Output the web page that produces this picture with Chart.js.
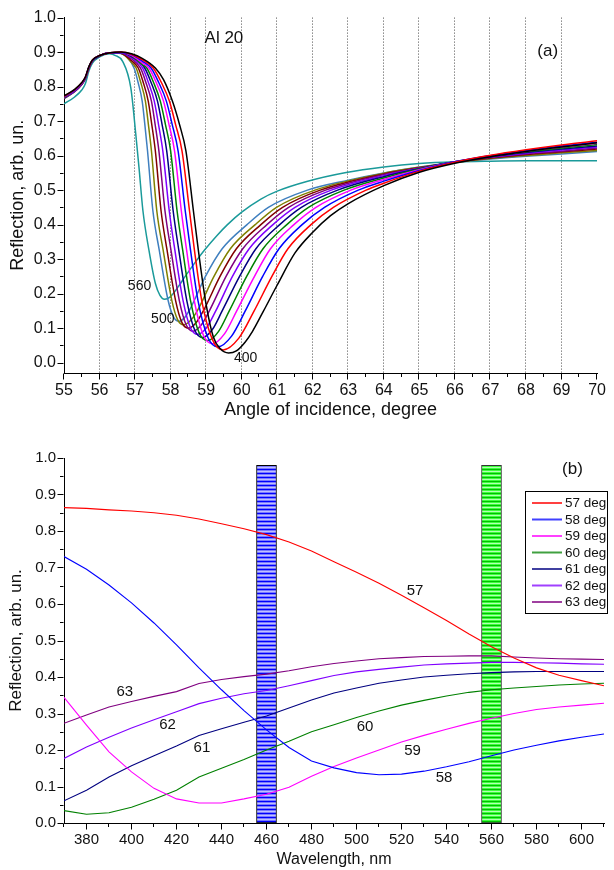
<!DOCTYPE html>
<html><head><meta charset="utf-8">
<script src="https://cdn.jsdelivr.net/npm/chart.js@4.4.1/dist/chart.umd.min.js"></script>
<style>
html,body{margin:0;padding:0;background:#fff;}
#wrap{position:relative;width:614px;height:870px;overflow:hidden;}
#c1{position:absolute;left:0;top:0;}
#c2{position:absolute;left:0;top:425px;}
</style></head><body>
<div id="wrap"><canvas id="c1" width="614" height="425"></canvas><canvas id="c2" width="614" height="445"></canvas></div>
<script>
// ---------- Panel (a): reflection vs angle, one curve per wavelength ----------
const topWavelengths = [400,410,420,430,440,450,460,470,480,490,500,560];
const curve400 = [[55,.773],[55.3,.792],[55.5,.812],[55.6,.828],[55.7,.858],[55.8,.877],[56,.890],[56.3,.898],[56.6,.900],[56.9,.895],[57.2,.882],[57.57,.854],[57.8,.82],[58.05,.758],[58.25,.69],[58.43,.614],[58.64,.441],[58.78,.326],[58.98,.18],[59.2,.075],[59.4,.04],[59.63,.028],[59.85,.034],[60.1,.06],[60.3,.09],[60.6,.147],[61,.225],[61.5,.318],[62,.378],[62.5,.426],[63,.461],[64,.513],[65,.552],[66,.578],[67,.597],[68,.612],[69,.625],[70,.637]];
const curve410 = [[55,.772],[55.3,.791],[55.5,.811],[55.6,.827],[55.7,.857],[55.8,.877],[56,.890],[56.3,.898],[56.6,.900],[56.9,.894],[57.2,.878],[57.51,.854],[57.74,.812],[57.965,.758],[58.14,.69],[58.32,.614],[58.53,.441],[58.67,.326],[58.875,.18],[59.18,.066],[59.48,.037],[59.92,.071],[60.35,.15],[60.85,.25],[61.3,.33],[61.95,.40],[62.58,.45],[63.5,.50],[64,.52],[65,.555],[66,.581],[67,.601],[68,.617],[69,.631],[70,.643]];
const curve420 = [[55,.771],[55.3,.790],[55.5,.810],[55.6,.826],[55.7,.857],[55.8,.876],[56,.890],[56.3,.898],[56.6,.899],[56.9,.893],[57.2,.874],[57.45,.854],[57.665,.812],[57.88,.758],[58.045,.69],[58.21,.614],[58.41,.441],[58.56,.326],[58.77,.18],[59.05,.073],[59.33,.046],[59.715,.077],[60.1,.15],[60.59,.25],[61.05,.33],[61.7,.40],[62.33,.45],[63.28,.50],[64,.526],[65,.557],[66,.582],[67,.600],[68,.615],[69,.628],[70,.639]];
const curve430 = [[55,.770],[55.3,.789],[55.5,.809],[55.6,.826],[55.7,.856],[55.8,.876],[56,.890],[56.3,.898],[56.6,.899],[56.9,.891],[57.2,.869],[57.39,.854],[57.595,.812],[57.80,.758],[57.955,.69],[58.11,.614],[58.30,.441],[58.45,.326],[58.665,.18],[58.92,.080],[59.18,.055],[59.52,.084],[59.86,.15],[60.36,.25],[60.81,.33],[61.47,.40],[62.09,.45],[63.07,.50],[64,.531],[65,.559],[66,.582],[67,.599],[68,.613],[69,.625],[70,.636]];
const curve440 = [[55,.769],[55.3,.789],[55.5,.809],[55.6,.825],[55.7,.856],[55.8,.876],[56,.889],[56.3,.898],[56.6,.899],[56.9,.889],[57.2,.864],[57.33,.854],[57.52,.812],[57.71,.758],[57.855,.69],[58.0,.614],[58.18,.441],[58.34,.326],[58.56,.18],[58.80,.087],[59.04,.064],[59.345,.090],[59.65,.15],[60.14,.25],[60.60,.33],[61.27,.40],[61.88,.45],[62.88,.50],[64,.535],[65,.561],[66,.582],[67,.598],[68,.611],[69,.622],[70,.632]];
const curve450 = [[55,.769],[55.3,.788],[55.5,.808],[55.6,.825],[55.7,.855],[55.8,.875],[56,.889],[56.3,.898],[56.6,.899],[56.9,.887],[57.27,.854],[57.45,.812],[57.63,.758],[57.76,.69],[57.89,.614],[58.07,.441],[58.23,.326],[58.455,.18],[58.68,.094],[58.9,.073],[59.175,.096],[59.45,.15],[59.94,.25],[60.40,.33],[61.07,.40],[61.68,.45],[62.7,.50],[64,.539],[65,.562],[66,.582],[67,.597],[68,.609],[69,.619],[70,.628]];
const curve460 = [[55,.768],[55.3,.787],[55.5,.808],[55.6,.824],[55.7,.855],[55.8,.875],[56,.889],[56.3,.898],[56.6,.898],[56.9,.884],[57.21,.854],[57.375,.812],[57.54,.758],[57.66,.69],[57.78,.614],[57.96,.441],[58.12,.326],[58.35,.18],[58.555,.102],[58.76,.082],[59.015,.102],[59.27,.15],[59.74,.25],[60.21,.33],[60.88,.40],[61.50,.45],[62.52,.50],[64,.542],[65,.563],[66,.582],[67,.596],[68,.607],[69,.616],[70,.625]];
const curve470 = [[55,.767],[55.3,.787],[55.5,.807],[55.6,.824],[55.7,.854],[55.8,.875],[56,.889],[56.3,.898],[56.6,.898],[56.9,.880],[57.15,.854],[57.305,.812],[57.46,.758],[57.565,.69],[57.67,.614],[57.84,.441],[58.01,.326],[58.245,.18],[58.44,.109],[58.63,.091],[58.86,.109],[59.09,.15],[59.56,.25],[60.03,.33],[60.71,.40],[61.32,.45],[62.36,.50],[64,.545],[65,.564],[66,.581],[67,.595],[68,.605],[69,.613],[70,.622]];
const curve480 = [[55,.767],[55.3,.786],[55.5,.807],[55.6,.823],[55.7,.854],[55.8,.874],[56,.889],[56.3,.898],[56.6,.897],[56.9,.875],[57.09,.854],[57.23,.812],[57.37,.758],[57.47,.69],[57.57,.614],[57.73,.441],[57.90,.326],[58.14,.18],[58.32,.116],[58.5,.100],[58.71,.115],[58.92,.15],[59.39,.25],[59.85,.33],[60.54,.40],[61.15,.45],[62.21,.50],[64,.547],[65,.565],[66,.581],[67,.593],[68,.603],[69,.611],[70,.619]];
const curve490 = [[55,.766],[55.3,.786],[55.5,.806],[55.6,.823],[55.7,.853],[55.8,.874],[56,.889],[56.3,.898],[56.6,.897],[56.9,.870],[57.03,.854],[57.16,.812],[57.29,.758],[57.375,.69],[57.46,.614],[57.61,.441],[57.79,.326],[58.035,.18],[58.20,.124],[58.37,.110],[58.56,.122],[58.75,.15],[59.22,.25],[59.68,.33],[60.38,.40],[60.98,.45],[62.06,.50],[64,.549],[65,.566],[66,.580],[67,.592],[68,.600],[69,.608],[70,.615]];
const curve500 = [[55,.765],[55.3,.785],[55.5,.806],[55.6,.822],[55.7,.853],[55.8,.874],[56,.889],[56.3,.898],[56.6,.896],[56.97,.854],[57.085,.812],[57.2,.758],[57.275,.69],[57.35,.614],[57.50,.441],[57.68,.326],[57.93,.18],[58.085,.132],[58.24,.120],[58.38,.129],[58.52,.15],[58.98,.25],[59.45,.33],[60.15,.40],[60.75,.45],[61.85,.50],[63,.529],[64,.55],[65,.567],[66,.58],[67,.59],[68,.598],[69,.605],[70,.612]];
const curve560 = [[55,.75],[55.3,.77],[55.5,.79],[55.6,.808],[55.7,.845],[55.8,.868],[56,.886],[56.28,.895],[56.45,.89],[56.65,.873],[56.88,.796],[57.02,.662],[57.11,.566],[57.22,.441],[57.39,.326],[57.57,.23],[57.7,.195],[57.83,.184],[57.98,.19],[58.2,.218],[58.41,.25],[58.7,.292],[58.96,.327],[59.3,.368],[59.6,.4],[60,.436],[60.54,.474],[61,.497],[61.83,.525],[62.94,.551],[64,.567],[65,.577],[66,.582],[67,.584],[68,.585],[69,.585],[70,.585]];
const topCurves = [curve400,curve410,curve420,curve430,curve440,curve450,curve460,curve470,curve480,curve490,curve500,curve560];
const topAngleTicks = [55,56,57,58,59,60,61,62,63,64,65,66,67,68,69,70];
const topGridAngles = [56,57,58,59,60,61,62,63,64,65,66,67,68,69];
const topReflTicks = [0.0,0.1,0.2,0.3,0.4,0.5,0.6,0.7,0.8,0.9,1.0];
const topLabels = [
  {text:'Al 20', x:59.5, y:0.94, size:17},
  {text:'(a)', x:68.61, y:0.903, size:17},
  {text:'560', x:57.125, y:0.222, size:14},
  {text:'500', x:57.78, y:0.125, size:14},
  {text:'400', x:60.11, y:0.013, size:14}
];

// ---------- Panel (b): reflection vs wavelength, one curve per angle ----------
const wavelengths = [370,380,390,400,410,420,430,440,450,460,470,480,490,500,510,520,530,540,550,560,570,580,590,600,610];
const r57 = [.864,.862,.858,.855,.850,.843,.833,.820,.806,.790,.770,.745,.716,.687,.657,.624,.590,.555,.518,.483,.452,.425,.405,.390,.376];
const r58 = [.730,.695,.652,.603,.548,.488,.425,.365,.308,.255,.207,.170,.151,.138,.132,.134,.142,.154,.168,.184,.200,.213,.225,.235,.244];
const r59 = [.344,.268,.195,.140,.095,.066,.055,.055,.066,.079,.098,.128,.155,.178,.200,.222,.240,.257,.273,.287,.300,.311,.318,.323,.328];
const r60 = [.034,.024,.028,.043,.065,.090,.126,.150,.174,.200,.224,.250,.269,.289,.307,.323,.336,.348,.358,.365,.370,.374,.378,.381,.383];
const r61 = [.061,.090,.126,.157,.184,.211,.240,.258,.276,.293,.315,.337,.356,.370,.383,.392,.400,.405,.409,.412,.414,.415,.415,.415,.415];
const r62 = [.177,.208,.235,.260,.283,.305,.327,.342,.354,.363,.376,.390,.404,.414,.421,.427,.433,.436,.438,.440,.440,.439,.438,.436,.435];
const r63 = [.273,.296,.318,.333,.347,.360,.382,.393,.401,.408,.417,.428,.437,.444,.450,.453,.456,.457,.458,.458,.455,.452,.450,.449,.448];
const angleSeries = [r57,r58,r59,r60,r61,r62,r63];
const angleNames = ['57 deg','58 deg','59 deg','60 deg','61 deg','62 deg','63 deg'];
const bandCenters = [460, 560];
const bandHeights = [0.98, 0.98];
const botWaveTicks = [380,400,420,440,460,480,500,520,540,560,580,600];
const botReflTicks = [0.0,0.1,0.2,0.3,0.4,0.5,0.6,0.7,0.8,0.9,1.0];
const botLabels = [
  {text:'(b)', x:596, y:0.968, size:17},
  {text:'57', x:526, y:0.636, size:15},
  {text:'63', x:397, y:0.359, size:15},
  {text:'62', x:416, y:0.268, size:15},
  {text:'61', x:431.3, y:0.207, size:15},
  {text:'60', x:503.8, y:0.264, size:15},
  {text:'59', x:524.9, y:0.197, size:15},
  {text:'58', x:538.9, y:0.123, size:15}
];

// ---------- styles ----------
const FONT = "'Liberation Sans', Arial, Helvetica, sans-serif";
const topColors = ['#000000','#ff0000','#0000ff','#ff00ff','#008000','#000080','#8000ff','#800080','#800000','#808000','#3f7fbf','#1a9a9a'];
const botColors = ['#ff0000','#0000ff','#ff00ff','#008000','#000080','#8000ff','#800080'];

function isMult(v, step){ const q = v/step; return Math.abs(q-Math.round(q))<1e-6; }
const tickMarks = {
  id:'tickMarks',
  afterDraw(chart, args, o){
    const {ctx, chartArea:ca, scales:{x,y}} = chart;
    ctx.save(); ctx.strokeStyle='#000'; ctx.lineWidth=1; ctx.beginPath();
    const yb = Math.round(ca.bottom)+0.5, xl = Math.round(ca.left)-0.5;
    for(let v=x.min; v<=x.max+1e-9; v+=o.xMinor){
      const px = Math.round(x.getPixelForValue(v))-0.5;
      const len = isMult(v,o.xMajor)?6:3.5;
      ctx.moveTo(px, yb); ctx.lineTo(px, yb+len);
    }
    for(let v=o.yStart; v<=y.max+1e-9; v+=o.yMinor){
      const py = Math.round(y.getPixelForValue(v))+0.5;
      const len = isMult(v,o.yMajor)?6:3.5;
      ctx.moveTo(xl, py); ctx.lineTo(xl-len, py);
    }
    ctx.stroke(); ctx.restore();
  }
};
const dotGrid = {
  id:'dotGrid',
  beforeDatasetsDraw(chart, args, o){
    if(!o.values) return;
    const {ctx, chartArea:ca, scales:{x}} = chart;
    ctx.save(); ctx.strokeStyle='#4a4a4a'; ctx.lineWidth=1; ctx.setLineDash([1,2]);
    o.values.forEach(v=>{
      const px = Math.round(x.getPixelForValue(v))-0.5;
      ctx.beginPath(); ctx.moveTo(px, ca.top); ctx.lineTo(px, ca.bottom); ctx.stroke();
    });
    ctx.restore();
  }
};
const textLabels = {
  id:'textLabels',
  afterDatasetsDraw(chart, args, o){
    const {ctx, scales:{x,y}} = chart;
    ctx.save(); ctx.fillStyle='#111'; ctx.textAlign='center'; ctx.textBaseline='middle';
    o.items.forEach(it=>{ ctx.font = it.size+'px '+FONT; ctx.fillText(it.text, x.getPixelForValue(it.x), y.getPixelForValue(it.y)); });
    ctx.restore();
  }
};
const boxLegend = {
  id:'boxLegend',
  afterDatasetsDraw(chart, args, o){
    if(!o.show) return;
    const {ctx} = chart;
    ctx.save();
    ctx.fillStyle='#fff'; ctx.fillRect(o.left, o.top, o.width, o.height);
    ctx.strokeStyle='#000'; ctx.lineWidth=1; ctx.strokeRect(o.left+0.5, o.top+0.5, o.width, o.height);
    const items = chart.data.datasets.filter(d=>d.type!=='bar');
    ctx.font = '13.5px '+FONT; ctx.textAlign='left'; ctx.textBaseline='middle';
    items.forEach((d,i)=>{
      const yy = o.top + o.firstRow + i*o.rowGap;
      ctx.strokeStyle=d.borderColor; ctx.globalAlpha=0.75; ctx.lineWidth=2; ctx.beginPath(); ctx.moveTo(o.left+7, yy); ctx.lineTo(o.left+37, yy); ctx.stroke();
      ctx.globalAlpha=1; ctx.fillStyle='#111'; ctx.fillText(d.label, o.left+40, yy+0.5);
    });
    ctx.restore();
  }
};

// ---------- chart (a) ----------
new Chart(document.getElementById('c1'), {
  type:'line',
  data:{ datasets: topCurves.map((d,i)=>({label: topWavelengths[i]+' nm', data:d, borderColor: topColors[i], borderWidth:1.5, pointRadius:0, fill:false, cubicInterpolationMode:'monotone'})) },
  options:{
    responsive:false, animation:false, devicePixelRatio:1, events:[],
    layout:{padding:{left:0, top:16, right:10, bottom:0}},
    plugins:{ legend:{display:false}, tooltip:{enabled:false},
      textLabels:{items: topLabels},
      dotGrid:{values: topGridAngles},
      tickMarks:{xMajor:1, xMinor:0.5, yMajor:0.1, yMinor:0.05, yStart:0}
    },
    scales:{
      x:{ type:'linear', min:55, max:70,
        afterBuildTicks: s=>{ s.ticks = topAngleTicks.map(v=>({value:v})); },
        afterFit: s=>{ s.height = 52; },
        ticks:{ color:'#111', font:{family:FONT, size:16}, padding:8, maxRotation:0, autoSkip:false, callback:v=>String(v) },
        grid:{ display:false, drawTicks:false },
        border:{ display:true, color:'#000', width:1 },
        title:{ display:true, text:'Angle of incidence, degree', color:'#111', font:{family:FONT, size:18}, padding:{top:0, bottom:4} }
      },
      y:{ type:'linear', min:-0.03, max:1.0,
        afterBuildTicks: s=>{ s.ticks = topReflTicks.map(v=>({value:v})); },
        afterFit: s=>{ s.width = 64; },
        ticks:{ color:'#111', font:{family:FONT, size:16}, padding:8, autoSkip:false, callback:v=>Number(v).toFixed(1) },
        grid:{ display:false, drawTicks:false },
        border:{ display:true, color:'#000', width:1 },
        title:{ display:true, text:'Reflection, arb. un.', color:'#111', font:{family:FONT, size:18}, padding:{top:7, bottom:0} }
      }
    }
  },
  plugins:[dotGrid, tickMarks, textLabels]
});

// ---------- chart (b) ----------
const c2 = document.getElementById('c2');
const c2ctx = c2.getContext('2d');
function stripes(colors){
  const pc = document.createElement('canvas'); pc.width = 4; pc.height = colors.length;
  const px = pc.getContext('2d');
  colors.forEach((col,i)=>{ px.fillStyle = col; px.fillRect(0,i,4,1); });
  return c2ctx.createPattern(pc, 'repeat');
}
const bluePat = stripes(['#0000ff','#7a7aff','#c0c0ff','#7a7aff']);
const greenPat = stripes(['#00c000','#3cff3c','#b4ffb4','#3cff3c']);

const lineSets = angleSeries.map((s,i)=>({ label: angleNames[i], data: wavelengths.map((w,j)=>({x:w, y:s[j]})), borderColor: botColors[i], borderWidth:1.1, pointRadius:0, fill:false, tension:0, order:0 }));
lineSets.push({ type:'bar', label:'bands', data: bandCenters.map((c,i)=>({x:c, y:bandHeights[i]})), backgroundColor:[bluePat, greenPat], borderColor:['#000','#333'], borderWidth:1, borderSkipped:false, barThickness:20, grouped:false, order:10 });

new Chart(c2, {
  type:'line',
  data:{ datasets: lineSets },
  options:{
    responsive:false, animation:false, devicePixelRatio:1, events:[],
    layout:{padding:{left:0, top:33, right:10, bottom:0}},
    plugins:{ legend:{display:false}, tooltip:{enabled:false},
      textLabels:{items: botLabels},
      tickMarks:{xMajor:20, xMinor:10, yMajor:0.1, yMinor:0.05, yStart:0},
      boxLegend:{show:true, left:525, top:66, width:82, height:122, firstRow:12, rowGap:16.5}
    },
    scales:{
      x:{ type:'linear', min:370, max:610, offset:false,
        afterBuildTicks: s=>{ s.ticks = botWaveTicks.map(v=>({value:v})); },
        afterFit: s=>{ s.height = 47; },
        ticks:{ color:'#111', font:{family:FONT, size:15}, padding:8, maxRotation:0, autoSkip:false, callback:v=>String(v) },
        grid:{ display:false, drawTicks:false, offset:false },
        border:{ display:true, color:'#000', width:1 },
        title:{ display:true, text:'Wavelength, nm', color:'#111', font:{family:FONT, size:16}, padding:{top:0, bottom:1} }
      },
      y:{ type:'linear', min:0, max:1.0,
        afterBuildTicks: s=>{ s.ticks = botReflTicks.map(v=>({value:v})); },
        afterFit: s=>{ s.width = 64; },
        ticks:{ color:'#111', font:{family:FONT, size:15}, padding:8, autoSkip:false, callback:v=>Number(v).toFixed(1) },
        grid:{ display:false, drawTicks:false },
        border:{ display:true, color:'#000', width:1 },
        title:{ display:true, text:'Reflection, arb. un.', color:'#111', font:{family:FONT, size:17}, padding:{top:6, bottom:0} }
      }
    }
  },
  plugins:[tickMarks, textLabels, boxLegend]
});
</script>
</body></html>
